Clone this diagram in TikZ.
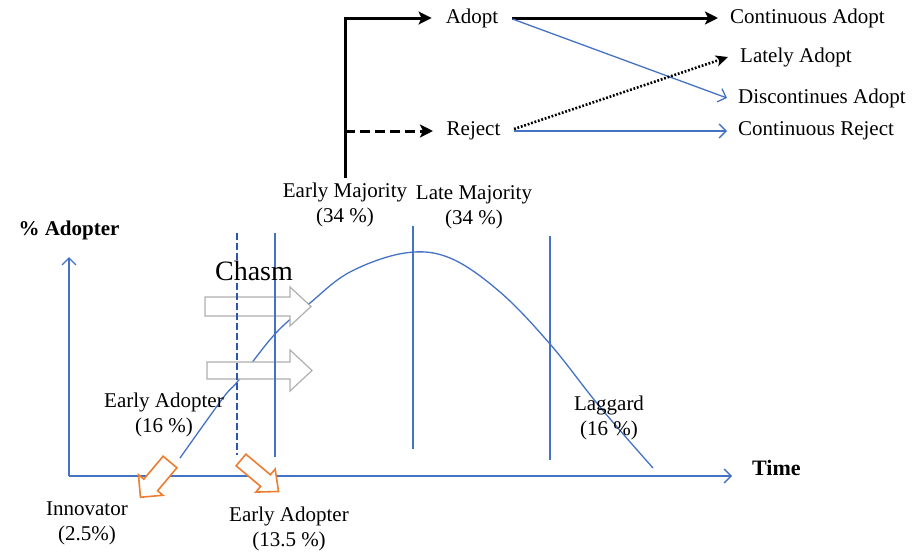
\documentclass[tikz,border=0pt]{standalone}
\usepackage{fontspec}
\setmainfont{Liberation Serif}
\usetikzlibrary{arrows.meta}
\definecolor{lblue}{RGB}{68,114,196}
\definecolor{dblue}{RGB}{45,85,175}
\definecolor{lorange}{RGB}{237,125,49}
\definecolor{lgray}{RGB}{175,175,175}
\begin{document}
\begin{tikzpicture}[x=1pt,y=-1pt,
  lbl/.style={font=\fontsize{21}{25}\selectfont, align=center, inner sep=0pt},
  toplbl/.style={font=\fontsize{21}{25}\selectfont, inner ysep=0pt},
  blk/.style={line width=3pt, black},
  blkarrow/.style={-{Stealth[length=13pt,width=13pt,inset=3pt]}},
  bl/.style={line width=1.3pt, lblue},
  barb/.style={-{Straight Barb[length=7pt,width=14pt,line width=1.3pt]}},
  dotline/.style={line width=2.6pt, black, dash pattern=on 1.8pt off 1.8pt},
  grayarrow/.style={draw=lgray, line width=1.2pt, fill=white},
  orangearrow/.style={draw=lorange, line width=1.6pt, fill=white, line join=miter},
]
\useasboundingbox (0,0) rectangle (913,552);

% ---------- top decision tree ----------
\node[toplbl, inner xsep=14pt] (Adopt) at (472,18) {Adopt};
\node[toplbl, inner xsep=13.5pt] (Reject) at (473.5,131) {Reject};
\node[toplbl, inner xsep=12pt, anchor=west] (CA) at (718,18) {Continuous Adopt};
\node[toplbl, inner xsep=12pt, anchor=west] (LA) at (728,57) {Lately Adopt};
\node[toplbl, inner xsep=11pt, anchor=west] (DA) at (727,98) {Discontinues Adopt};
\node[toplbl, inner xsep=11pt, anchor=west] (CR) at (727,131) {Continuous Reject};

\coordinate (EMtop) at (345,178);
\coordinate (RejStart) at (345,131);

\draw[blk, blkarrow] (EMtop) |- (Adopt.west);
\draw[blk, blkarrow, dash pattern=on 10pt off 5pt] (RejStart) -- (Reject.west);
\draw[blk, blkarrow] (Adopt.east) -- (CA.west);
\draw[bl, barb] ([yshift=-1pt]Adopt.east) -- (DA.west);
\draw[dotline, -{Stealth[length=12pt,width=11pt,inset=3pt]}] ([yshift=2pt]Reject.east) -- (LA.west);
\draw[bl, barb] (Reject.east) -- (CR.west);

% ---------- diffusion curve ----------
\draw[bl] plot[smooth, tension=0.6] coordinates {(180,458) (223,398) (238,381) (275,334) (310,303) (350,272) (405,253) (450,258) (500,292) (550,344) (600,407) (653,468)};

% chasm arrows
\draw[grayarrow] (205,297) -- (290,297) -- (290,287) -- (311,306.5) -- (290,326) -- (290,316) -- (205,316) -- cycle;
\draw[grayarrow] (207,362) -- (290,362) -- (290,350) -- (312,370.5) -- (290,391) -- (290,379) -- (207,379) -- cycle;

% vertical dividers
\coordinate (d1t) at (237,233); \coordinate (d1b) at (237,455);
\coordinate (d2t) at (275,233); \coordinate (d2b) at (275,457);
\coordinate (d3t) at (413,226); \coordinate (d3b) at (413,449);
\coordinate (d4t) at (550,236); \coordinate (d4b) at (550,460);
\draw[dblue, line width=2pt, dash pattern=on 7pt off 3pt] (d1t) -- (d1b);
\draw[bl] (d2t) -- (d2b);
\draw[bl] (d3t) -- (d3b);
\draw[bl] (d4t) -- (d4b);

% axes
\coordinate (O) at (69,476);
\coordinate (Ytip) at (69,257);
\coordinate (Xtip) at (732,476);
\draw[bl, barb] (O) -- (Ytip);
\draw[bl, barb] (O) -- (Xtip);

% orange arrows
\draw[orangearrow, shift={(170,462)}, rotate=230]
  (0,-9) -- (30,-9) -- (30,-16) -- (46,0) -- (30,16) -- (30,9) -- (0,9) -- cycle;
\draw[orangearrow, shift={(241,460)}, rotate=-40]
  (0,-7.6) -- (32,-7.6) -- (32,-15) -- (49,0) -- (32,15) -- (32,7.6) -- (0,7.6) -- cycle;

% labels
\node[lbl] (EM) at (345,205) {Early Majority\\(34 \%)};
\node[lbl] (LM) at (474,207) {Late Majority\\(34 \%)};
\node[lbl] (EA) at (164,415) {Early Adopter\\(16 \%)};
\node[lbl] (LG) at (609,418) {Laggard\\(16 \%)};
\node[lbl] (IN) at (87,523) {Innovator\\(2.5\%)};
\node[lbl] (EA2) at (289,529) {Early Adopter\\(13.5 \%)};
\node[lbl, font=\fontsize{28}{32}\selectfont] (CH) at (254,271) {Chasm};
\node[lbl, font=\fontsize{21}{25}\selectfont\bfseries] (YL) at (69,230) {\% Adopter};
\node[lbl, font=\fontsize{22}{25}\selectfont\bfseries, anchor=west] (XL) at (752,468) {Time};
\end{tikzpicture}
\end{document}
